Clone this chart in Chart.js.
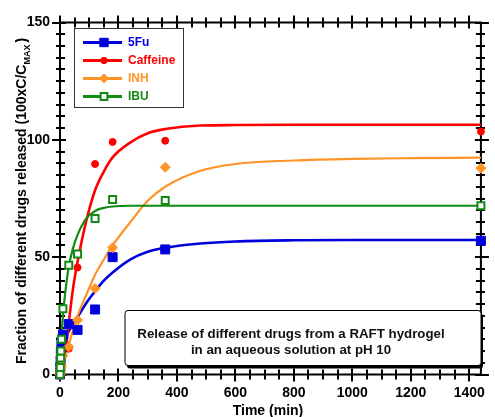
<!DOCTYPE html>
<html>
<head>
<meta charset="utf-8">
<script src="https://cdn.jsdelivr.net/npm/chart.js@4/dist/chart.umd.min.js"></script>
<style>
  html, body { margin: 0; padding: 0; background: #fff; }
  #wrap { width: 495px; height: 417px; }
</style>
</head>
<body>
<div id="wrap"><canvas id="c" width="495" height="417"></canvas></div>
<script>
// Sampling times (min) of the measured release points
const sampleTimes = [0, 1, 2, 3, 5, 10, 30, 60, 120, 180, 360, 1440];
// Measured cumulative release (100 x C / Cmax)
const fuReleased       = [0, 3, 6, 10, 14, 17, 21.5, 19, 27.7, 50, 53.3, 57];
const caffeineReleased = [0, 1, 2, 3, 5, 8, 11, 45.6, 89.7, 99.1, 99.6, 103.5];
const inhReleased      = [0, 1, 2, 3, 4, 8, 11.8, 23.2, 36.7, 54, 88.3, 87.9];
const ibuReleased      = [0, 3, 7, 10, 15, 28, 46.6, 51.3, 66.5, 74.6, 74.1, 71.9];

// Fitted release curves, sampled along the time axis
const curveTimes    = [0, 5, 10, 20, 30, 45, 60, 90, 120, 150, 180, 240, 300, 360, 480, 600, 800, 1000, 1200, 1440];
const fuCurve       = [12, 13.3, 14.5, 16.5, 18.5, 21.5, 24.5, 30.5, 35.5, 40, 43.5, 49, 52.3, 54, 55.8, 56.7, 57.2, 57.3, 57.3, 57.3];
const caffeineCurve = [0, 2, 5, 11, 22, 37, 48, 65.5, 78.5, 86.5, 92.5, 98.8, 102.8, 104.6, 106.1, 106.3, 106.4, 106.4, 106.4, 106.4];
const inhCurve      = [0.5, 2.5, 4.5, 8.5, 12.5, 19, 25, 34, 42.5, 49, 55, 64.8, 74, 80, 86.8, 89.7, 91.2, 91.9, 92.2, 92.4];
const ibuCurve      = [0, 16, 25, 37, 46, 54, 59.5, 66.5, 69.7, 71, 71.6, 71.9, 71.9, 71.9, 71.9, 71.9, 71.9, 71.9, 71.9, 71.9];

// Axis ranges and labelled ticks
const timeRange = [0, 1440];
const releaseRange = [0, 150];
const timeTickStep = 200;
const releaseTickStep = 50;

const drugNames = ['5Fu', 'Caffeine', 'INH', 'IBU'];

const FONT = '"Liberation Sans", Arial, Helvetica, sans-serif';

// marker half-size in px (half side for squares, radius for circles / diamonds)
const looks = {
  '5Fu':     { color: '#0000dd', shape: 'square',  half: 4.5, legendHalf: 4.2, open: false, lineWidth: 2.6 },
  'Caffeine':{ color: '#ff0000', shape: 'circle',  half: 3.5, legendHalf: 3.2, open: false, lineWidth: 2.6 },
  'INH':     { color: '#ff9326', shape: 'diamond', half: 5,   legendHalf: 4.5, open: false, lineWidth: 2.2 },
  'IBU':     { color: '#138a13', shape: 'square',  half: 3.5, legendHalf: 3.4, open: true,  lineWidth: 2.2 }
};

const measured = { '5Fu': fuReleased, 'Caffeine': caffeineReleased, 'INH': inhReleased, 'IBU': ibuReleased };
const fitted   = { '5Fu': fuCurve, 'Caffeine': caffeineCurve, 'INH': inhCurve, 'IBU': ibuCurve };

const toPoints = (xs, ys) => xs.map((t, i) => ({ x: t, y: ys[i] }));

function markerOptions(look) {
  if (look.shape === 'square') return { pointStyle: 'rect', pointRadius: look.half * Math.SQRT2 };
  if (look.shape === 'diamond') return { pointStyle: 'rectRot', pointRadius: look.half };
  return { pointStyle: 'circle', pointRadius: look.half };
}

const datasets = [];
drugNames.forEach((name, i) => {
  const look = looks[name];
  datasets.push({
    label: name + ' fit',
    data: toPoints(curveTimes, fitted[name]),
    showLine: true,
    borderColor: look.color,
    borderWidth: look.lineWidth,
    pointRadius: 0,
    cubicInterpolationMode: 'monotone',
    fill: false,
    clip: false,
    order: 10 + (drugNames.length - i)
  });
});
drugNames.forEach((name, i) => {
  const look = looks[name];
  const m = markerOptions(look);
  datasets.push({
    label: name,
    data: toPoints(sampleTimes, measured[name]),
    showLine: false,
    pointStyle: m.pointStyle,
    pointRadius: m.pointRadius,
    pointBackgroundColor: look.open ? '#ffffff' : look.color,
    pointBorderColor: look.color,
    pointBorderWidth: look.open ? 2 : 1,
    clip: false,
    order: drugNames.length - i
  });
});

// marker drawn in the key
function drawMarker(ctx, look, x, y) {
  ctx.save();
  ctx.fillStyle = look.open ? '#ffffff' : look.color;
  ctx.strokeStyle = look.color;
  ctx.lineWidth = look.open ? 2 : 1;
  ctx.beginPath();
  const r = look.legendHalf;
  if (look.shape === 'square') {
    ctx.rect(x - r, y - r, 2 * r, 2 * r);
  } else if (look.shape === 'diamond') {
    ctx.moveTo(x, y - r); ctx.lineTo(x + r, y); ctx.lineTo(x, y + r); ctx.lineTo(x - r, y); ctx.closePath();
  } else {
    ctx.arc(x, y, r, 0, Math.PI * 2);
  }
  ctx.fill();
  ctx.stroke();
  ctx.restore();
}

const framePlugin = {
  id: 'frame',
  beforeDatasetsDraw(chart) {
    const { ctx, chartArea: a, scales: { x, y } } = chart;
    ctx.save();
    ctx.strokeStyle = '#000';
    ctx.lineWidth = 2;
    ctx.strokeRect(a.left, a.top, a.right - a.left, a.bottom - a.top);
    ctx.beginPath();
    for (let t = timeRange[0]; t <= timeRange[1]; t += 50) {
      const px = Math.round(x.getPixelForValue(t));
      const major = t % timeTickStep === 0;
      const out = major ? 7 : 5, inn = major ? 6 : 5;
      ctx.moveTo(px, a.bottom + out); ctx.lineTo(px, a.bottom - inn);
      ctx.moveTo(px, a.top - out); ctx.lineTo(px, a.top + inn);
    }
    for (let v = releaseRange[0]; v <= releaseRange[1]; v += 5) {
      const py = Math.round(y.getPixelForValue(v));
      const major = v % releaseTickStep === 0;
      const out = major ? 8 : 4, inn = major ? 6 : 5;
      ctx.moveTo(a.left - out, py); ctx.lineTo(a.left + inn, py);
      ctx.moveTo(a.right + out, py); ctx.lineTo(a.right - inn, py);
    }
    ctx.stroke();
    ctx.restore();
  },
  afterDraw(chart) {
    const { ctx } = chart;
    ctx.save();

    // axis titles
    ctx.fillStyle = '#000';
    ctx.font = 'bold 14px ' + FONT;
    ctx.textAlign = 'center';
    ctx.textBaseline = 'middle';
    ctx.fillText('Time (min)', 268, 411);

    const main = 'Fraction of different drugs released (100xC/C';
    const sub = 'MAX';
    const close = ')';
    ctx.save();
    ctx.translate(22, 201);
    ctx.rotate(-Math.PI / 2);
    ctx.textAlign = 'left';
    ctx.font = 'bold 14px ' + FONT;
    const wMain = ctx.measureText(main).width;
    const wClose = ctx.measureText(close).width;
    ctx.font = 'bold 9px ' + FONT;
    const wSub = ctx.measureText(sub).width;
    let cx = -(wMain + wSub + wClose + 2) / 2;
    ctx.font = 'bold 14px ' + FONT;
    ctx.fillText(main, cx, 0);
    cx += wMain;
    ctx.font = 'bold 9px ' + FONT;
    ctx.fillText(sub, cx, 6);
    cx += wSub + 2;
    ctx.font = 'bold 14px ' + FONT;
    ctx.fillText(close, cx, 0);
    ctx.restore();

    // key
    ctx.fillStyle = '#fff';
    ctx.strokeStyle = '#333';
    ctx.lineWidth = 1;
    ctx.fillRect(74.5, 28.5, 109, 79);
    ctx.strokeRect(74.5, 28.5, 109, 79);
    drugNames.forEach((name, i) => {
      const look = looks[name];
      const yy = 42.5 + i * 18;
      ctx.strokeStyle = look.color;
      ctx.lineWidth = 3;
      ctx.beginPath();
      ctx.moveTo(83, yy); ctx.lineTo(122, yy);
      ctx.stroke();
      drawMarker(ctx, look, 104, yy);
      ctx.fillStyle = look.color;
      ctx.font = 'bold 12px ' + FONT;
      ctx.textAlign = 'left';
      ctx.textBaseline = 'middle';
      ctx.fillText(name, 128, yy + 0.5);
    });

    // caption box
    const bx = 125, by = 310.5, bw = 356, bh = 55;
    ctx.fillStyle = '#000';
    ctx.beginPath();
    ctx.roundRect(bx + 2, by + 3, bw, bh, 3);
    ctx.fill();
    ctx.fillStyle = '#fff';
    ctx.strokeStyle = '#000';
    ctx.lineWidth = 1;
    ctx.beginPath();
    ctx.roundRect(bx, by, bw, bh, 3);
    ctx.fill();
    ctx.stroke();
    ctx.fillStyle = '#111';
    ctx.font = 'bold 13.3px ' + FONT;
    ctx.textAlign = 'center';
    ctx.textBaseline = 'middle';
    ctx.fillText('Release of different drugs from a RAFT hydrogel', 291, 334);
    ctx.fillText('in an aqueous solution at pH 10', 291, 350);
    ctx.restore();
  }
};

new Chart(document.getElementById('c'), {
  type: 'scatter',
  data: { datasets },
  options: {
    responsive: false,
    animation: false,
    events: [],
    layout: { padding: { left: 0, top: 22.5, right: 6.5, bottom: 0 } },
    plugins: { legend: { display: false }, tooltip: { enabled: false } },
    scales: {
      x: {
        type: 'linear',
        min: timeRange[0],
        max: timeRange[1],
        afterFit(s) { s.height = 42.5; },
        afterBuildTicks(s) {
          const t = [];
          for (let v = timeRange[0]; v <= timeRange[1]; v += timeTickStep) t.push({ value: v });
          s.ticks = t;
        },
        ticks: {
          color: '#000', font: { family: FONT, size: 14, weight: 'bold' }, padding: 10, maxRotation: 0,
          callback: (v) => String(v)
        },
        grid: { display: false, drawTicks: false },
        border: { display: false }
      },
      y: {
        type: 'linear',
        min: releaseRange[0],
        max: releaseRange[1],
        afterFit(s) { s.width = 60; },
        afterBuildTicks(s) {
          const t = [];
          for (let v = releaseRange[0]; v <= releaseRange[1]; v += releaseTickStep) t.push({ value: v });
          s.ticks = t;
        },
        ticks: {
          color: '#000', font: { family: FONT, size: 14, weight: 'bold' }, padding: 10,
          callback: (v) => String(v)
        },
        grid: { display: false, drawTicks: false },
        border: { display: false }
      }
    }
  },
  plugins: [framePlugin]
});
</script>
</body>
</html>
